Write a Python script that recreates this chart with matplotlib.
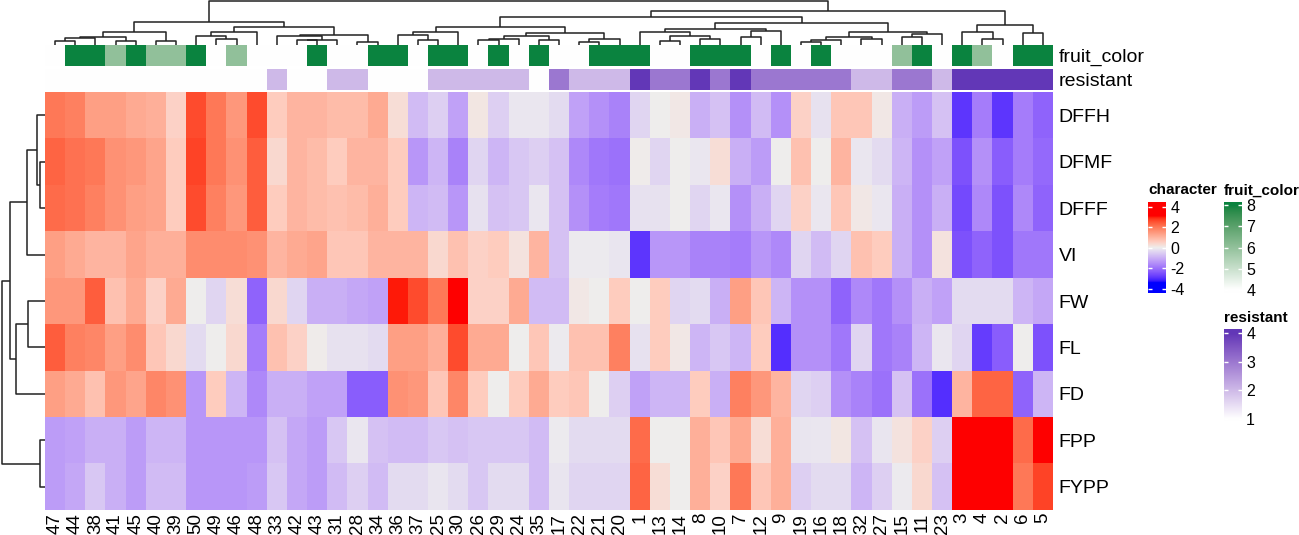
import numpy as np
import matplotlib
matplotlib.use("Agg")
import matplotlib.pyplot as plt
from matplotlib.colors import ListedColormap, Normalize

plt.rcParams['font.family'] = ['Liberation Sans', 'DejaVu Sans']

W, H = 1299, 535

# ---- data (columns in displayed order) ----
col_labels = ['47', '44', '38', '41', '45', '40', '39', '50', '49', '46', '48', '33', '42', '43', '31',
              '28', '34', '36', '37', '25', '30', '26', '29', '24', '35', '17', '22', '21', '20', '1',
              '13', '14', '8', '10', '7', '12', '9', '19', '16', '18', '32', '27', '15', '11', '23',
              '3', '4', '2', '6', '5']
row_labels = ['DFFH', 'DFMF', 'DFFF', 'VI', 'FW', 'FL', 'FD', 'FPP', 'FYPP']

DFFH = [2.0, 1.9, 1.4, 1.4, 1.2, 1.1, 0.5, 2.6, 2.0, 1.5, 2.6, 0.6, 1.0, 1.0, 0.9, 0.9, 1.2, 0.3, -0.8, -0.5, -1.2, 0.15, -0.5, -0.1, -0.1,
        -0.3, -1.2, -1.5, -1.7, -0.4, 0.0, 0.1, -1.0, -0.7, -1.5, -0.8, -1.5, 0.5, -0.2, 0.7, 0.7, 0.1, -1.0, -1.3, -0.7, -2.9, -1.8, -2.9, -1.8, -2.2]
DFMF = [2.3, 2.1, 2.0, 1.6, 1.5, 1.3, 0.6, 2.7, 2.0, 1.6, 2.4, 0.4, 1.0, 0.9, 0.6, 1.0, 1.0, 0.6, -1.4, -0.9, -1.7, -0.4, -0.9, -0.6, -0.5,
        -0.7, -1.6, -1.9, -2.0, 0.05, -0.4, 0.0, -0.1, 0.3, -1.0, -1.3, 0.0, 0.8, 0.0, 1.0, -0.1, -0.3, -0.9, -1.5, -1.2, -2.5, -1.5, -2.3, -1.8, -2.1]
DFFF = [2.2, 2.1, 1.9, 1.6, 1.4, 1.3, 0.6, 2.6, 1.9, 1.5, 2.4, 0.6, 1.0, 0.9, 0.8, 0.9, 1.1, 0.6, -0.9, -0.8, -1.4, -0.2, -0.7, -0.6, -0.1,
        -0.7, -1.5, -1.8, -1.9, -0.2, -0.2, 0.0, -0.4, -0.1, -1.5, -1.0, -0.4, 0.5, -0.1, 0.7, 0.1, -0.1, -1.0, -1.5, -1.0, -2.6, -1.6, -2.5, -1.6, -2.2]
VI = [1.4, 1.2, 1.0, 1.0, 1.3, 1.1, 1.1, 1.7, 1.7, 1.7, 1.6, 1.0, 1.2, 1.3, 0.7, 0.7, 1.0, 1.0, 1.0, 0.4, 0.8, 0.5, 0.6, 0.2, 1.0,
      -0.7, -0.05, -0.05, -0.15, -2.9, -1.4, -1.4, -1.7, -1.7, -1.8, -1.4, -1.6, -0.4, -0.8, -0.4, 0.8, 0.6, -1.0, -1.5, 0.2, -2.5, -2.2, -2.5, -1.9, -1.9]
FW = [1.5, 1.5, 2.4, 0.8, 1.2, 0.5, 1.2, 0.0, -0.4, 0.3, -2.2, 0.4, -0.4, -1.0, -1.0, -1.1, -1.2, 3.0, 2.6, 2.0, 3.5, 0.5, 0.5, 1.2, -0.8,
      -0.8, 0.1, 0.0, 0.6, 0.0, 0.6, -0.4, -0.3, -1.0, 1.4, 0.7, -0.9, -1.5, -1.5, -2.2, -1.6, -1.9, -1.5, -1.0, -1.2, -0.3, -0.3, -0.3, -0.9, -1.1]
FL = [2.4, 1.9, 1.8, 1.4, 1.7, 0.7, 0.4, -0.3, 0.0, 0.4, -1.8, 0.8, 0.5, 0.05, -0.2, -0.2, -0.3, 1.4, 1.4, 1.1, 2.6, 1.2, 1.2, 0.0, 0.7,
      -0.05, 0.8, 0.8, 1.9, -0.2, 0.6, 0.1, -0.9, -0.6, -0.9, 0.6, -3.0, -1.5, -1.5, -1.9, -0.4, -1.9, -1.7, -0.9, -0.1, -0.4, -2.8, -2.3, 0.0, -2.5]
FD = [1.4, 1.2, 0.8, 1.5, 1.3, 1.8, 1.6, -1.4, 0.6, -0.9, -1.6, -1.0, -1.0, -1.2, -1.2, -2.3, -2.3, 1.6, 1.5, 0.7, 1.8, 0.6, 0.0, 0.6, 1.2,
      0.6, 0.7, 0.0, -0.5, -1.2, -0.9, -0.9, 0.6, -1.0, 1.9, 1.5, 1.0, -0.4, -0.5, -1.5, -1.7, -2.0, -0.7, -2.0, -3.0, 1.0, 2.3, 2.3, -2.2, -0.9]
FPP = [-1.3, -1.2, -1.0, -1.0, -1.3, -0.9, -0.9, -1.4, -1.4, -1.4, -1.4, -0.7, -1.1, -1.3, -0.6, -0.1, -0.7, -0.8, -0.8, -0.6, -0.7, -0.6, -0.6, -0.6, -0.8,
       -0.05, -0.3, -0.3, -0.3, 2.2, 0.0, 0.0, 1.1, 0.7, 1.2, 0.3, 1.1, -0.15, -0.1, 0.15, -0.7, -0.15, 0.2, 0.5, -0.5, 3.8, 3.2, 3.8, 2.2, 3.6]
FYPP = [-1.3, -1.1, -0.6, -1.0, -1.3, -0.8, -0.8, -1.4, -1.4, -1.4, -1.3, -0.6, -1.1, -1.3, -0.8, -0.5, -0.8, -0.3, -0.3, -0.15, -0.3, -0.6, -0.3, -0.3, -0.8,
        -0.15, -0.4, -0.4, -0.4, 2.3, 0.3, 0.0, 1.1, 0.5, 2.0, 0.7, 1.1, -0.5, -0.3, -0.3, -0.9, -0.5, -0.05, 0.4, -0.7, 3.8, 3.4, 3.8, 2.0, 2.7]

fruit_color = [4, 8, 8, 6, 8, 6, 6, 8, 4, 6, 4, 4, 4, 8, 4, 4, 8, 8, 4, 8, 8, 4, 8, 4, 8,
               4, 4, 8, 8, 8, 4, 4, 8, 8, 8, 4, 8, 4, 8, 4, 4, 4, 6, 8, 4, 8, 6, 4, 8, 8]
resistant = [1, 1, 1, 1, 1, 1, 1, 1, 1, 1, 1, 2, 1, 1, 2, 2, 1, 1, 1, 2, 2, 2, 2, 2, 1,
             3, 2, 2, 2, 4, 3, 3, 4, 3, 4, 3, 3, 3, 3, 3, 2, 2, 3, 3, 2, 4, 4, 4, 4, 4]

# dendrograms: [left, right, merge height] ; leaves are display positions
col_tree = [
    [[[[[0, 1, 3.3], 2, 6.5], [3, 4, 3.3], 7.3], [5, 6, 3.3], 12.3],
     [[[7, [8, 9, 5.3], 9.0], 10, 12.3],
      [[11, [[12, 13, 4.5], 14, 4.7], 9.0], [15, 16, 2.3], 9.7], 18.0], 22.3],
    [[[[[17, [18, 19, 4.7], 9.7], 20, 12.3],
       [[[[21, 22, 4.5], 23, 6.0], [24, 25, 4.7], 9.0], [[26, 27, 2.3], 28, 5.7], 12.0], 18.0],
      [[[29, [[30, 31, 4.0], [32, 33, 5.5], 9.0], 12.3], [[34, 35, 8.0], 36, 14.0], 15.5],
       [[[[37, 38, 2.3], 39, 4.7], [40, 41, 5.7], 8.0], [[42, 43, 8.0], 44, 10.7], 13.0], 21.5], 27.3],
     [[45, [46, 47, 5.7], 12.3], [48, 49, 11.7], 20.0], 34.0],
    43.3]
row_tree = [[[[0, [1, 2, 5.0], 8.3], 3, 18.3], [[4, 5, 16.7], 6, 29.0], 35.0], [7, 8, 5.0], 43.3]


# ---- colour helpers (interpolate in Lab like circlize) ----
def hex2rgb(h):
    return np.array([int(h[i:i + 2], 16) for i in (1, 3, 5)]) / 255.0

M = np.array([[0.4124, 0.3576, 0.1805], [0.2126, 0.7152, 0.0722], [0.0193, 0.1192, 0.9505]])
WHITE = np.array([0.95047, 1.0, 1.08883])

def rgb2lab(c):
    c = np.where(c > 0.04045, ((c + 0.055) / 1.055) ** 2.4, c / 12.92)
    xyz = M @ c / WHITE
    f = np.where(xyz > 0.008856, np.cbrt(xyz), 7.787 * xyz + 16 / 116)
    return np.array([116 * f[1] - 16, 500 * (f[0] - f[1]), 200 * (f[1] - f[2])])

def lab2rgb(lab):
    fy = (lab[0] + 16) / 116
    f = np.array([fy + lab[1] / 500, fy, fy - lab[2] / 200])
    xyz = np.where(f ** 3 > 0.008856, f ** 3, (f - 16 / 116) / 7.787) * WHITE
    c = np.linalg.solve(M, xyz)
    c = np.clip(c, 0, 1)
    c = np.where(c > 0.0031308, 1.055 * c ** (1 / 2.4) - 0.055, 12.92 * c)
    return np.clip(c, 0, 1)

def lab_cmap(stops, vmin, vmax, n=256):
    vals = np.linspace(vmin, vmax, n)
    sv = [s[0] for s in stops]
    labs = [rgb2lab(hex2rgb(s[1])) for s in stops]
    cols = []
    for v in vals:
        v = min(max(v, sv[0]), sv[-1])
        k = np.searchsorted(sv, v, side='right') - 1
        k = min(k, len(sv) - 2)
        t = (v - sv[k]) / (sv[k + 1] - sv[k])
        cols.append(lab2rgb(labs[k] * (1 - t) + labs[k + 1] * t))
    return ListedColormap(cols), Normalize(vmin, vmax)

char_cmap, char_norm = lab_cmap([(-4, '#0000FF'), (-3.4, '#0000FF'), (0, '#EEEEEE'),
                                 (3.1, '#FF0000'), (4, '#FF0000')], -4, 4)
fruit_cmap, fruit_norm = lab_cmap([(4, '#FFFFFF'), (8, '#0B833F')], 4, 8)
res_cmap, res_norm = lab_cmap([(1, '#FFFFFF'), (4, '#6337B7')], 1, 4)


def px_axes(x0, y0, x1, y1):
    return fig.add_axes([x0 / W, 1 - y1 / H, (x1 - x0) / W, (y1 - y0) / H])


def draw_tree(ax, node, top):
    if isinstance(node, int):
        return node, 0.0
    xl, hl = draw_tree(ax, node[0], top)
    xr, hr = draw_tree(ax, node[1], top)
    h = node[2]
    if top:
        ax.plot([xl, xl, xr, xr], [hl, h, h, hr], color='#222222', lw=1.1, solid_capstyle='butt')
    else:
        ax.plot([45 - hl, 45 - h, 45 - h, 45 - hr], [xl, xl, xr, xr], color='#222222', lw=1.1,
                solid_capstyle='butt')
    return (xl + xr) / 2, h


fig = plt.figure(figsize=(W / 100, H / 100), dpi=100)

values = np.array([DFFH, DFMF, DFFF, VI, FW, FL, FD, FPP, FYPP])
ncol = len(col_labels)

# heatmap
ax = px_axes(45, 92, 1053, 510)
ax.imshow(values, cmap=char_cmap, norm=char_norm, aspect='auto', interpolation='nearest')
ax.set_xticks(range(ncol))
ax.set_xticklabels(col_labels, rotation=90, fontsize=13.5)
ax.yaxis.tick_right()
ax.set_yticks(range(len(row_labels)))
ax.set_yticklabels(row_labels, fontsize=14)
ax.tick_params(axis='y', length=0, pad=4)
ax.tick_params(axis='x', length=0, pad=2)
for s in ax.spines.values():
    s.set_visible(False)

# annotation bars
for (y0, y1, arr, cm, nm, name) in [(45, 66, fruit_color, fruit_cmap, fruit_norm, 'fruit_color'),
                                    (69, 90, resistant, res_cmap, res_norm, 'resistant')]:
    a = px_axes(45, y0, 1053, y1)
    a.imshow(np.array([arr]), cmap=cm, norm=nm, aspect='auto', interpolation='nearest')
    a.set_xticks([])
    a.yaxis.tick_right()
    a.set_yticks([0])
    a.set_yticklabels([name], fontsize=14)
    a.tick_params(length=0, pad=4)
    for s in a.spines.values():
        s.set_visible(False)

# column dendrogram
ad = px_axes(45, 0, 1053, 44.5)
draw_tree(ad, col_tree, True)
ad.set_xlim(-0.5, ncol - 0.5)
ad.set_ylim(0, 44.5)
ad.axis('off')

# row dendrogram
ar = px_axes(0, 92, 45, 510)
draw_tree(ar, row_tree, False)
ar.set_xlim(0, 45)
ar.set_ylim(len(row_labels) - 0.5, -0.5)
ar.axis('off')


# legends
def legend_bar(x0, y0, y1, cm, nm, ticks, lo, hi, title, ty):
    a = px_axes(x0, y0, x0 + 18, y1)
    grad = np.linspace(hi, lo, 200).reshape(-1, 1)
    a.imshow(grad, cmap=cm, norm=nm, aspect='auto', extent=[0, 1, lo, hi])
    a.set_xlim(0, 1)
    a.set_ylim(lo, hi)
    a.hlines(ticks, 0, 0.2, color='white', lw=1)
    a.hlines(ticks, 0.8, 1, color='white', lw=1)
    a.set_xticks([])
    a.yaxis.tick_right()
    a.set_yticks(ticks)
    a.set_yticklabels([str(t) for t in ticks], fontsize=11.5)
    a.tick_params(length=0, pad=3)
    for s in a.spines.values():
        s.set_visible(False)
    fig.text(x0 / W, 1 - ty / H, title, fontsize=11, fontweight='bold', ha='left', va='center')


legend_bar(1148, 202, 293, char_cmap, char_norm, [-4, -2, 0, 2, 4], -4.4, 4.45, 'character', 190.5)
legend_bar(1224, 202, 293, fruit_cmap, fruit_norm, [4, 5, 6, 7, 8], 3.85, 8.15, 'fruit_color', 190.5)
legend_bar(1224, 329, 421, res_cmap, res_norm, [1, 2, 3, 4], 0.93, 4.15, 'resistant', 318)

fig.savefig('out.png', dpi=100)
